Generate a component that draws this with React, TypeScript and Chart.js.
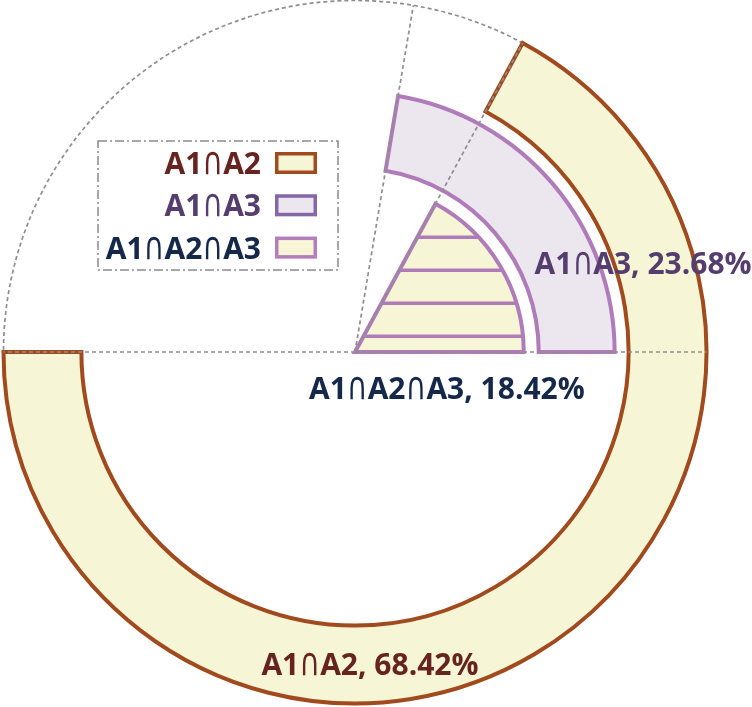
import React, { useEffect, useRef } from "react";
import { Chart, registerables } from "chart.js";

Chart.register(...registerables);

// ---------- data ----------
const categories = ["A1∩A2", "A1∩A3", "A1∩A2∩A3"];
const percentages = [68.42, 23.68, 18.42];

// ---------- styles ----------
const FONT = "'Open Sans', 'DejaVu Sans', sans-serif";
const SYM_FONT = "'DejaVu Sans', sans-serif";
const FONT_SIZE = 30;
const YELLOW = "#F6F6D7";
const LAVENDER = "#ECE6EF";
const BROWN = "#A04A1E";
const PURPLE = "#B07BB9";
const GRID = "#8E8E8E";
const ringFills = [YELLOW, LAVENDER, "hatch"];
const ringBorders = [BROWN, PURPLE, PURPLE];
const legendBorders = [BROWN, "#8467A6", "#B47CBC"];
const legendFills = [YELLOW, LAVENDER, YELLOW];
const textColors = ["#66231F", "#553E6D", "#15284A"];
const ringWeights = [78, 76, 169];
const gapWeights = [14, 15];
const ringEnds = [270, 90, 90]; // degrees clockwise from top where each ring ends
const START_GAP_DEG = 4.8;
const RING_BORDER = 4;
// label anchors relative to centre, in units of radius
const labelAnchors = [
  [15 / 352, 323 / 352],
  [288.5 / 352, -78 / 352],
  [92 / 352, 47 / 352],
];

function makeHatch(): CanvasPattern | string {
  const c = document.createElement("canvas");
  c.width = 8;
  c.height = 33;
  const g = c.getContext("2d");
  if (!g) return YELLOW;
  g.fillStyle = YELLOW;
  g.fillRect(0, 0, 8, 33);
  g.fillStyle = PURPLE;
  g.fillRect(0, 6.5, 8, 3.5);
  const p = g.createPattern(c, "repeat");
  return p || YELLOW;
}

// draws text where "∩" uses a thin symbol font, the rest bold
function drawMixed(ctx: CanvasRenderingContext2D, text: string, x: number, y: number, align: "left" | "center" | "right", size: number) {
  const parts = text.split(/(∩)/).filter((p) => p.length > 0);
  const fonts = parts.map((p) => (p === "∩" ? `normal ${size * 0.95}px ${SYM_FONT}` : `bold ${size}px ${FONT}`));
  const widths = parts.map((p, i) => {
    ctx.font = fonts[i];
    return ctx.measureText(p).width;
  });
  const total = widths.reduce((s, w) => s + w, 0);
  let cx = align === "left" ? x : align === "center" ? x - total / 2 : x - total;
  ctx.textAlign = "left";
  ctx.textBaseline = "alphabetic";
  parts.forEach((p, i) => {
    ctx.font = fonts[i];
    if (p === "∩") {
      ctx.save();
      ctx.translate(cx, y);
      ctx.scale(1, 1.36);
      ctx.fillText(p, 0, 0);
      ctx.restore();
    } else {
      ctx.fillText(p, cx, y);
    }
    cx += widths[i];
  });
}

const overlayPlugin = {
  id: "overlay",
  beforeDatasetsDraw(chart: any) {
    const ctx = chart.ctx;
    const a0 = chart.getDatasetMeta(0).data[0];
    const { x, y, outerRadius } = a0.getProps(["x", "y", "outerRadius"], true);
    ctx.save();
    ctx.setLineDash([4, 3]);
    ctx.strokeStyle = GRID;
    ctx.lineWidth = 1.7;
    ctx.beginPath();
    ctx.arc(x, y, outerRadius, 0, Math.PI * 2);
    ctx.stroke();
    ctx.restore();
  },
  afterDatasetsDraw(chart: any) {
    const ctx = chart.ctx;
    const a0 = chart.getDatasetMeta(0).data[0];
    const { x, y, outerRadius: R } = a0.getProps(["x", "y", "outerRadius"], true);
    // radial grid lines at the arc edges
    const angles: number[] = [];
    [0, 2, 4].forEach((di) => {
      const arc = chart.getDatasetMeta(di).data[0];
      const { startAngle, endAngle } = arc.getProps(["startAngle", "endAngle"], true);
      [startAngle, endAngle].forEach((a: number) => {
        const n = ((a % (2 * Math.PI)) + 2 * Math.PI) % (2 * Math.PI);
        if (!angles.some((b) => Math.abs(b - n) < 1e-3)) angles.push(n);
      });
    });
    ctx.save();
    ctx.setLineDash([4, 3]);
    ctx.strokeStyle = GRID;
    ctx.lineWidth = 1.7;
    angles.forEach((a) => {
      ctx.beginPath();
      ctx.moveTo(x, y);
      ctx.lineTo(x + Math.cos(a) * R, y + Math.sin(a) * R);
      ctx.stroke();
    });
    ctx.restore();

    // value labels
    ctx.save();
    categories.forEach((cat, i) => {
      ctx.fillStyle = textColors[i];
      const [fx, fy] = labelAnchors[i];
      drawMixed(ctx, `${cat}, ${percentages[i].toFixed(2)}%`, x + fx * R, y + fy * R, "center", FONT_SIZE);
    });
    ctx.restore();

    // legend
    const bx = x - 257;
    const by = y - 211;
    ctx.save();
    ctx.strokeStyle = "#8A8A8A";
    ctx.lineWidth = 1.5;
    ctx.setLineDash([9, 3, 2, 3]);
    ctx.strokeRect(bx, by, 240, 129);
    ctx.setLineDash([]);
    categories.forEach((cat, i) => {
      const cy = y - 189 + i * 42.3;
      ctx.fillStyle = textColors[i];
      drawMixed(ctx, cat, x - 94, cy + 11, "right", FONT_SIZE);
      ctx.fillStyle = legendFills[i];
      ctx.fillRect(x - 80, cy - 11, 42, 22);
      ctx.strokeStyle = legendBorders[i];
      ctx.lineWidth = 3.5;
      ctx.strokeRect(x - 78.25, cy - 9.25, 38.5, 18.5);
    });
    ctx.restore();
  },
};

export default function App() {
  const ref = useRef<HTMLCanvasElement | null>(null);
  useEffect(() => {
    if (!ref.current) return;
    const hatch = makeHatch();
    const ring = (i: number) => {
      const circ = percentages[i] * 3.6 - START_GAP_DEG;
      return {
        label: categories[i],
        data: [percentages[i]],
        backgroundColor: ringFills[i] === "hatch" ? hatch : ringFills[i],
        borderColor: ringBorders[i],
        borderWidth: RING_BORDER,
        hoverBorderWidth: RING_BORDER,
        hoverOffset: 0,
        borderJoinStyle: "miter",
        circumference: circ,
        rotation: ringEnds[i] - circ,
        weight: ringWeights[i],
      };
    };
    const gap = (w: number) => ({
      label: "",
      data: [1],
      backgroundColor: "rgba(0,0,0,0)",
      borderWidth: 0,
      hoverBorderWidth: 0,
      hoverOffset: 0,
      circumference: 360,
      rotation: 0,
      weight: w,
    });
    const chart = new Chart(ref.current, {
      type: "doughnut",
      data: {
        labels: ["value"],
        datasets: [ring(0), gap(gapWeights[0]), ring(1), gap(gapWeights[1]), ring(2)] as any,
      },
      options: {
        responsive: false,
        devicePixelRatio: 1,
        animation: false,
        events: [],
        cutout: 0,
        layout: { padding: { left: 1.5, right: 43.5, top: 0.5, bottom: 1.5 } },
        plugins: { legend: { display: false }, tooltip: { enabled: false } },
      } as any,
      plugins: [overlayPlugin as any],
    });
    return () => chart.destroy();
  }, []);
  return (
    <div style={{ position: "fixed", left: 0, top: -2, width: 752, height: 709, background: "#fff" }}>
      <canvas ref={ref} width={752} height={709} style={{ display: "block" }} />
    </div>
  );
}
